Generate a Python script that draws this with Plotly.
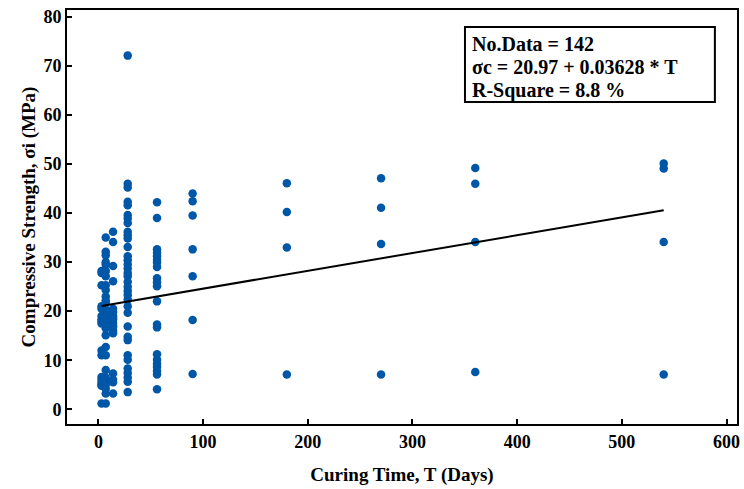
import plotly.graph_objects as go

# Curing time (days) and compressive strength (MPa) per column
t3 = [28.2, 27.8, 25.3, 21.0, 20.5, 19.0, 18.3, 18.0, 17.5, 12.0, 11.0, 6.6, 6.0, 5.4, 5.0, 4.8, 1.2]
t7 = [35.0, 32.1, 31.4, 30.0, 29.5, 28.2, 27.1, 25.3, 24.3, 23.0, 22.2, 21.6, 20.3, 19.5, 18.8,
      18.0, 17.2, 16.5, 15.1, 12.7, 11.0, 8.0, 6.5, 5.8, 5.0, 4.2, 3.2, 1.2]
t14 = [36.2, 34.1, 29.2, 26.1, 20.5, 19.8, 19.0, 18.6, 18.3, 17.6, 17.0, 16.8, 16.0, 15.5, 7.3, 6.0, 5.5, 3.2]
t28 = [72.1, 46.0, 45.2, 42.3, 41.6, 39.6, 38.9, 38.0, 36.2, 35.5, 34.8, 33.1, 31.2, 30.4, 29.5,
       28.7, 27.8, 27.1, 26.0, 25.0, 24.1, 23.3, 22.4, 21.0, 19.7, 16.9, 14.8, 14.1, 11.0, 10.1,
       8.3, 7.4, 6.5, 5.6, 3.5]
t56 = [42.2, 39.0, 32.6, 31.9, 31.2, 30.5, 29.9, 29.0, 26.7, 25.9, 25.1, 22.0, 17.3, 16.7, 11.2,
       10.1, 9.3, 8.6, 7.8, 7.1, 4.1]
t90 = [44.0, 42.4, 39.5, 32.6, 27.1, 18.2, 7.2]
t180 = [46.1, 40.2, 33.0, 7.1]
t270 = [47.1, 41.1, 33.7, 7.1]
t360 = [49.2, 46.0, 34.1, 7.6]
t540 = [50.1, 49.1, 34.1, 7.1]

days = [3, 7, 14, 28, 56, 90, 180, 270, 360, 540]
groups = [t3, t7, t14, t28, t56, t90, t180, t270, t360, t540]

x_vals, y_vals = [], []
for d, g in zip(days, groups):
    x_vals += [d] * len(g)
    y_vals += g

intercept = 20.97
slope = 0.03628
fit_x = [3, 540]
fit_y = [intercept + slope * v for v in fit_x]

x_ticks = [0, 100, 200, 300, 400, 500, 600]
y_ticks = [0, 10, 20, 30, 40, 50, 60, 70, 80]

FONT = "Liberation Serif"

fig = go.Figure()
fig.add_trace(go.Scatter(x=x_vals, y=y_vals, mode="markers",
                         marker=dict(color="#0057A8", size=8.5, line=dict(width=0)),
                         showlegend=False))
fig.add_trace(go.Scatter(x=fit_x, y=fit_y, mode="lines",
                         line=dict(color="black", width=2), showlegend=False))

axis_common = dict(showline=True, linecolor="black", linewidth=2, mirror=True,
                   ticks="inside", ticklen=5, tickwidth=2, tickcolor="black",
                   showgrid=False, zeroline=False,
                   tickfont=dict(family=FONT, size=18, color="black", weight="bold"))

fig.update_xaxes(range=[-30, 610], tickvals=x_ticks,
                 title=dict(text="Curing Time, T (Days)", standoff=17,
                            font=dict(family=FONT, size=19, color="black", weight="bold")),
                 **axis_common)
fig.update_yaxes(range=[-3, 81.4], tickvals=y_ticks,
                 title=dict(text="Compressive Strength, σi (MPa)", standoff=3,
                            font=dict(family=FONT, size=19, color="black", weight="bold")),
                 **axis_common)

fig.add_shape(type="rect", xref="paper", yref="paper", x0=0.594, x1=0.967, y0=0.778, y1=0.959,
              line=dict(color="black", width=2), fillcolor="white", layer="above")

lines = ["No.Data = 142", "σc = 20.97 + 0.03628 * T", "R-Square = 8.8 %"]
ys = [0.918, 0.862, 0.806]
for txt, yy in zip(lines, ys):
    fig.add_annotation(text=txt, xref="paper", yref="paper", x=0.601, y=yy,
                       xanchor="left", yanchor="middle", showarrow=False,
                       font=dict(family=FONT, size=20, color="black", weight="bold"))

fig.update_layout(width=744, height=489, plot_bgcolor="white", paper_bgcolor="white",
                  margin=dict(l=67, r=4, t=10, b=65))

fig.write_html("out.html", config={"displayModeBar": False},
               post_script="document.body.style.margin='0';document.body.style.overflow='hidden';")
